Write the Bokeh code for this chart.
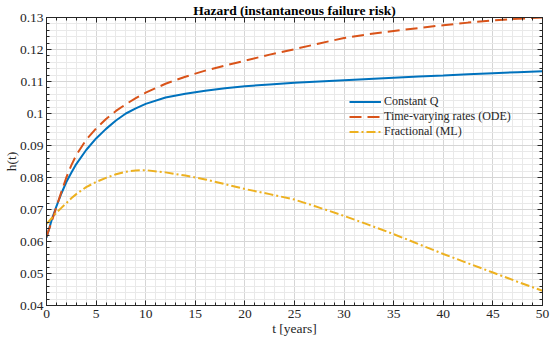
from bokeh.plotting import figure
from bokeh.models import (Range1d, LinearAxis, SingleIntervalTicker, CustomJSTickFormatter,
                          Legend, LegendItem)
from bokeh.embed import file_html
from bokeh.resources import INLINE

t = [0, 0.5, 1, 1.5, 2, 2.5, 3, 4, 5, 6, 7, 8, 9, 10, 12, 14, 16, 18, 20,
     22.5, 25, 27.5, 30, 32.5, 35, 37.5, 40, 42.5, 45, 47.5, 50]
constant_q = [0.0612, 0.0665, 0.0710, 0.0750, 0.0786, 0.0815, 0.0842, 0.0886, 0.0922,
              0.0952, 0.0978, 0.1000, 0.1016, 0.1030, 0.1050, 0.1062, 0.1071, 0.1079,
              0.1085, 0.1091, 0.1096, 0.1100, 0.1104, 0.1108, 0.1112, 0.1116, 0.1119,
              0.1123, 0.1126, 0.1129, 0.1132]
ode = [0.0615, 0.0660, 0.0708, 0.0755, 0.0800, 0.0838, 0.0870, 0.0918, 0.0953,
       0.0983, 0.1008, 0.1029, 0.1048, 0.1065, 0.1093, 0.1115, 0.1134, 0.1150,
       0.1165, 0.1184, 0.1201, 0.1219, 0.1236, 0.1248, 0.1258, 0.1267, 0.1276,
       0.1284, 0.1291, 0.1296, 0.1300]
ml = [0.0655, 0.0672, 0.0690, 0.0705, 0.0720, 0.0735, 0.0748, 0.0770, 0.0786,
      0.0799, 0.0810, 0.0818, 0.0822, 0.0823, 0.0816, 0.0806, 0.0794, 0.0779,
      0.0764, 0.0748, 0.0731, 0.0706, 0.0680, 0.0652, 0.0623, 0.0592, 0.0561,
      0.0532, 0.0503, 0.0474, 0.0446]
series_names = ["Constant Q", "Time-varying rates (ODE)", "Fractional (ML)"]
title_text = "Hazard (instantaneous failure risk)"
x_label = "t [years]"
y_label = "h(t)"

FONT = "'Times New Roman', 'Liberation Serif', serif"
TXT = "#262626"

p = figure(width=550, height=344, output_backend="svg", toolbar_location=None,
           x_range=Range1d(0, 50), y_range=Range1d(0.04, 0.13),
           min_border_left=46, min_border_right=8, min_border_top=17, min_border_bottom=39,
           x_axis_location=None, y_axis_location=None)
p.title.text = title_text
p.title.text_font = FONT
p.title.text_font_size = "13.5px"
p.title.text_font_style = "bold"
p.title.text_color = "black"
p.title.align = "center"
p.title.standoff = 0
p.title.offset = 0
p.background_fill_color = "white"
p.border_fill_color = "white"
p.outline_line_color = TXT
p.outline_line_width = 1

xt = SingleIntervalTicker(interval=5, num_minor_ticks=5)
yt = SingleIntervalTicker(interval=0.01, num_minor_ticks=5)
fmt = CustomJSTickFormatter(code="return parseFloat(tick.toFixed(4)).toString();")
blank = CustomJSTickFormatter(code="return '';")

def make_axis(ticker, show_labels, label=None, lstand=4, astand=0):
    ax = LinearAxis(ticker=ticker, formatter=fmt if show_labels else blank)
    ax.axis_line_color = TXT
    ax.major_tick_line_color = TXT
    ax.minor_tick_line_color = TXT
    ax.major_tick_in = 5
    ax.major_tick_out = 0
    ax.minor_tick_in = 3
    ax.minor_tick_out = 0
    ax.major_label_text_font = FONT
    ax.major_label_text_color = TXT
    if show_labels:
        ax.major_label_text_font_size = "13.5px"
        ax.major_label_standoff = lstand
    else:
        ax.major_label_text_font_size = "0px"
        ax.major_label_standoff = 0
    if label:
        ax.axis_label = label
        ax.axis_label_text_font = FONT
        ax.axis_label_text_font_size = "13.5px"
        ax.axis_label_text_font_style = "normal"
        ax.axis_label_text_color = TXT
        ax.axis_label_standoff = astand
    return ax

p.add_layout(make_axis(xt, True, x_label, 4, 0), "below")
p.add_layout(make_axis(yt, True, y_label, 3, -2), "left")
p.add_layout(make_axis(xt, False), "above")
p.add_layout(make_axis(yt, False), "right")

p.xgrid.ticker = xt
p.ygrid.ticker = yt
for g in (p.xgrid, p.ygrid):
    g.grid_line_color = "#d6d6d6"
    g.minor_grid_line_color = "#e9e9e9"
    g.grid_line_width = 1
    g.minor_grid_line_width = 1

r1 = p.line(t, constant_q, line_color="#0072BD", line_width=2)
r2 = p.line(t, ode, line_color="#D95319", line_width=2, line_dash="12 6")
r3 = p.line(t, ml, line_color="#EDB120", line_width=2, line_dash="9 3 2 3")

legend = Legend(items=[LegendItem(label=series_names[0], renderers=[r1]),
                       LegendItem(label=series_names[1], renderers=[r2]),
                       LegendItem(label=series_names[2], renderers=[r3])],
                location=(303, 166), orientation="vertical")
legend.background_fill_alpha = 0
legend.border_line_color = None
legend.label_text_font = FONT
legend.label_text_font_size = "12px"
legend.label_text_color = TXT
legend.glyph_width = 32
legend.glyph_height = 13
legend.label_height = 13
legend.spacing = -3
legend.padding = 0
legend.margin = 0
legend.label_standoff = 3
p.add_layout(legend, "center")

open("out.html", "w").write(file_html(p, INLINE))
